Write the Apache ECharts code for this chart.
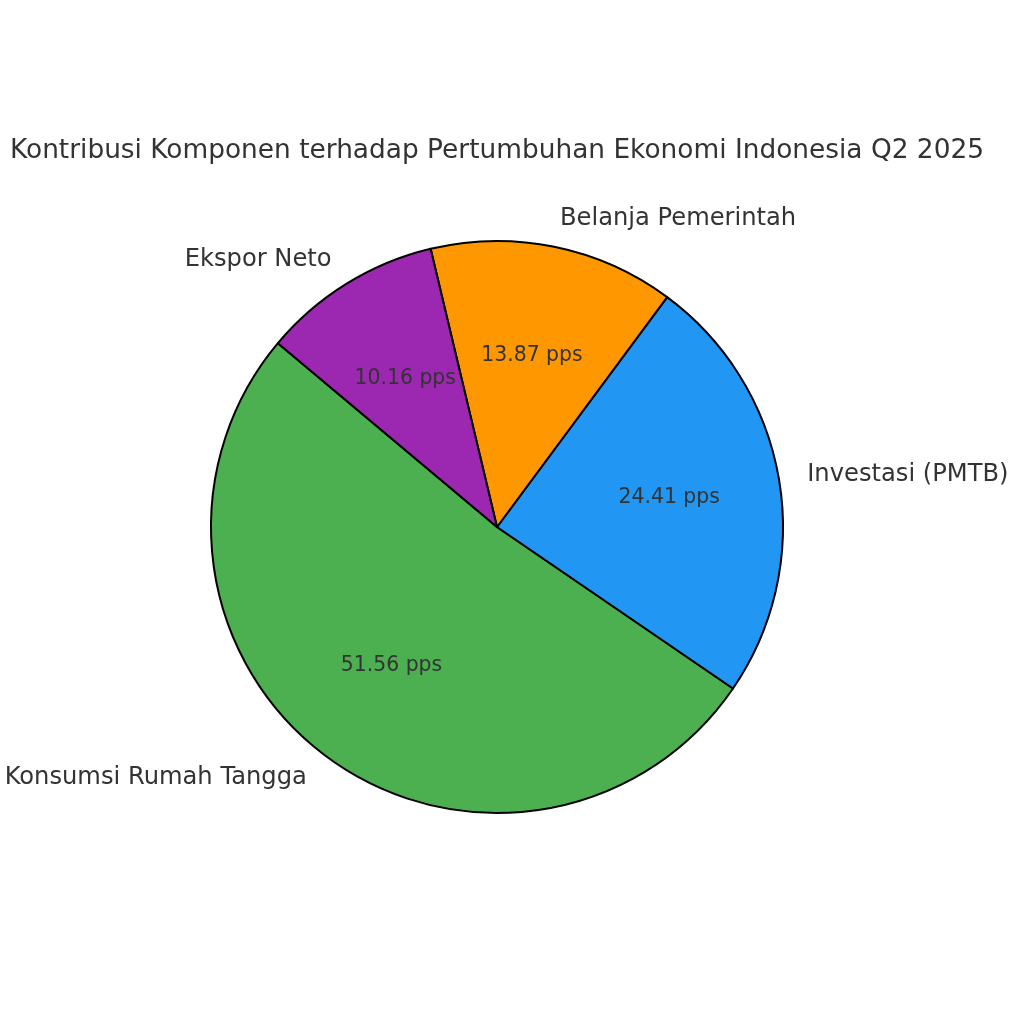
<!DOCTYPE html>
<html><head><meta charset="utf-8">
<script src="https://cdn.jsdelivr.net/npm/echarts@6/dist/echarts.min.js"></script>
<style>html,body{margin:0;padding:0;background:#fff}#c{width:1024px;height:1024px}</style>
</head><body><div id="c"></div>
<script>
const categories = ['Konsumsi Rumah Tangga', 'Investasi (PMTB)', 'Belanja Pemerintah', 'Ekspor Neto'];
const values = [51.56, 24.41, 13.87, 10.16];
const colors = ['#4CAF50', '#2196F3', '#FF9800', '#9C27B0'];
const titleText = 'Kontribusi Komponen terhadap Pertumbuhan Ekonomi Indonesia Q2 2025';

const R = 286;
const center = [497, 527];
const font = 'DejaVu Sans';

const mainData = categories.map((n, i) => ({ name: n, value: values[i], itemStyle: { color: colors[i] } }));
const pctData = categories.map((n, i) => ({ name: n, value: values[i] }));

const chart = echarts.init(document.getElementById('c'));
chart.setOption({
  animation: false,
  title: {
    text: titleText, left: 10, top: 138, padding: 0,
    textStyle: { fontFamily: font, fontSize: 26.4, fontWeight: 'normal', color: '#333' }
  },
  series: [
    {
      type: 'pie', center: center, radius: R, startAngle: 140, clockwise: false,
      avoidLabelOverlap: false, silent: true,
      data: mainData,
      itemStyle: { borderColor: '#000', borderWidth: 2 },
      label: {
        show: true, position: 'outside', formatter: '{b}', distanceToLabelLine: 0,
        fontFamily: font, fontSize: 24.2, color: '#333'
      },
      labelLine: { show: false, length: R * 0.1, length2: 0 },
      emphasis: { disabled: true }
    },
    {
      type: 'pie', center: center, radius: R * 1.2, startAngle: 140, clockwise: false,
      avoidLabelOverlap: false, silent: true, z: 5,
      data: pctData,
      itemStyle: { color: 'rgba(0,0,0,0)', borderWidth: 0 },
      label: {
        show: true, position: 'inside', rotate: 0, formatter: '{c} pps',
        fontFamily: font, fontSize: 20.4, color: '#333'
      },
      labelLine: { show: false },
      emphasis: { disabled: true }
    }
  ]
});
</script>
</body></html>
